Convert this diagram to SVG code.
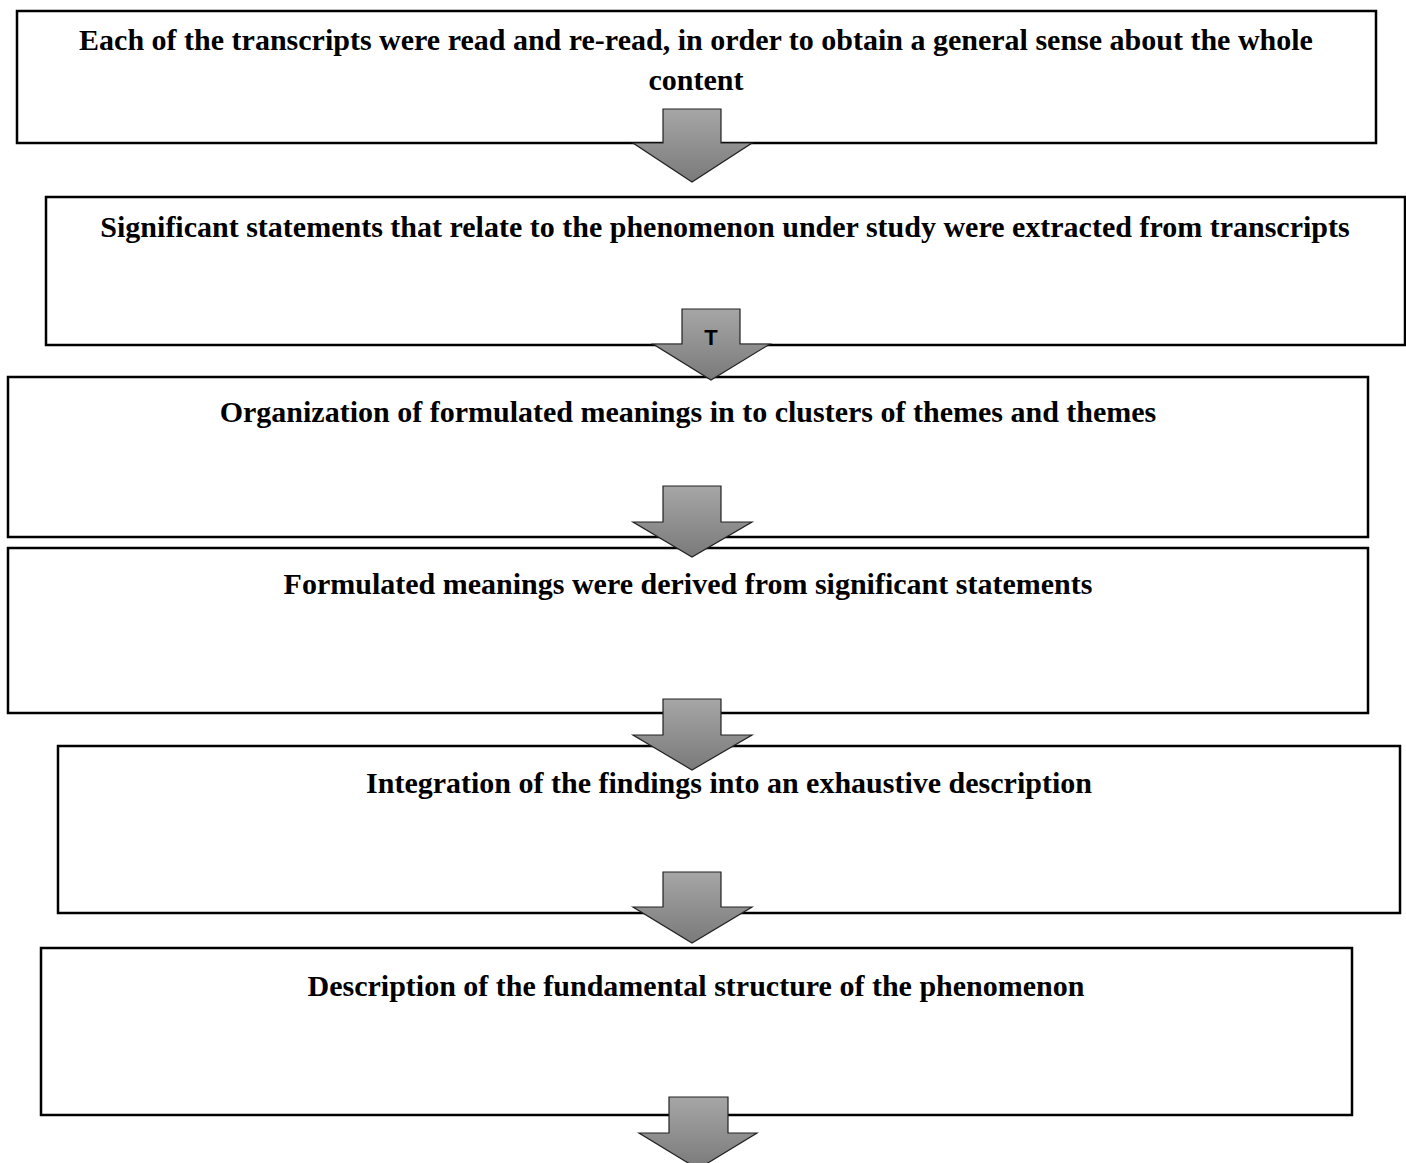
<svg xmlns="http://www.w3.org/2000/svg" width="1406" height="1163" viewBox="0 0 1406 1163">
<defs>
<linearGradient id="g" x1="0" y1="0" x2="0" y2="1">
<stop offset="0" stop-color="#a6a6a6"/>
<stop offset="1" stop-color="#7a7a7a"/>
</linearGradient>
<style>
.box{fill:#fff;stroke:#000;stroke-width:2.5}
.t{font-family:"Liberation Serif","Times New Roman",serif;font-weight:bold;font-size:30px;fill:#000;text-anchor:middle}
.arr{fill:url(#g);stroke:#222;stroke-width:1.2;stroke-linejoin:miter}
.lbl{font-family:"Liberation Sans",Arial,sans-serif;font-weight:bold;font-size:22px;fill:#000;text-anchor:middle}
</style>
</defs>
<rect width="1406" height="1163" fill="#fff"/>
<g id="node1"><rect class="box" x="17" y="11" width="1359" height="132"/>
<text class="t" x="696" y="50">Each of the transcripts were read and re-read, in order to obtain a general sense about the whole</text>
<text class="t" x="696" y="90">content</text></g>
<g id="node2"><rect class="box" x="46" y="197" width="1359" height="148"/>
<text class="t" x="725" y="237">Significant statements that relate to the phenomenon under study were extracted from transcripts</text></g>
<g id="node3"><rect class="box" x="8" y="377" width="1360" height="160"/>
<text class="t" x="688" y="422">Organization of formulated meanings in to clusters of themes and themes</text></g>
<g id="node4"><rect class="box" x="8" y="548" width="1360" height="165"/>
<text class="t" x="688" y="594">Formulated meanings were derived from significant statements</text></g>
<g id="node5"><rect class="box" x="58" y="746" width="1342" height="167"/>
<text class="t" x="729" y="793">Integration of the findings into an exhaustive description</text></g>
<g id="node6"><rect class="box" x="41" y="948" width="1311" height="167"/>
<text class="t" x="696" y="996">Description of the fundamental structure of the phenomenon</text></g>
<g id="connectors">
<polygon class="arr" points="663,109 721,109 721,143 752,143 692,182 633,143 663,143"/>
<polygon class="arr" points="682,309 740,309 740,344 770,344 711,380 653,344 682,344"/>
<text class="lbl" x="711" y="345">T</text>
<polygon class="arr" points="663,486 721,486 721,522 752,522 692,557 633,522 663,522"/>
<polygon class="arr" points="663,699 721,699 721,735 752,735 692,770 633,735 663,735"/>
<polygon class="arr" points="663,872 721,872 721,907 752,907 692,943 633,907 663,907"/>
<polygon class="arr" points="669,1097 728,1097 728,1133 757,1133 698,1169 639,1133 669,1133"/>
</g>
</svg>
